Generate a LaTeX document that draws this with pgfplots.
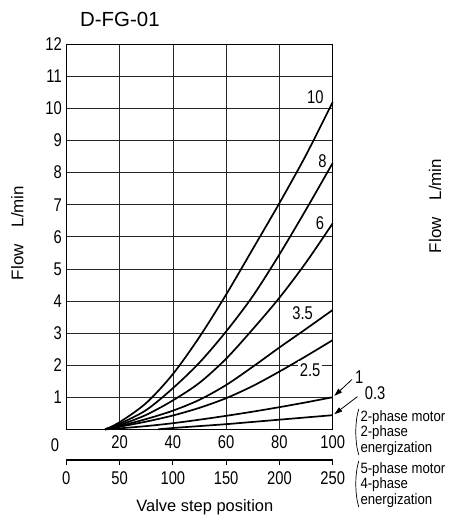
\documentclass[border=0pt]{standalone}
\usepackage{fontspec}
\setmainfont{Liberation Sans}
\newfontfamily\cond[FakeStretch=0.8]{Liberation Sans}
\newfontfamily\condb[FakeStretch=0.88]{Liberation Sans}
\usepackage{pgfplots}
\pgfplotsset{compat=1.18}
\usetikzlibrary{arrows.meta}
\tikzset{crv/.style={black, line width=1.7bp, smooth, tension=0.5, mark=none}}

\begin{document}
\begin{tikzpicture}
\useasboundingbox (-66.3bp,-90.7bp) rectangle (387.7bp,429.3bp);
\begin{axis}[
  at={(0,0)}, anchor=south west,
  scale only axis, width=266.4bp, height=385bp,
  xmin=0, xmax=100, ymin=0, ymax=12,
  xtick={20,40,60,80,100}, ytick={1,2,...,12},
  grid=major, major grid style={black!85, line width=0.7bp},
  axis line style={black, line width=1.1bp},
  tick style={draw=none},
  /pgf/number format/assume math mode=true,
  ticklabel style={font=\cond\fontsize{18.5}{18.5}\selectfont},
  xticklabel style={yshift=-3bp},
  yticklabel style={xshift=-1bp},
  ylabel={Flow\quad L/min},
  ylabel style={font=\fontsize{17}{17}\selectfont, at={(axis description cs:-0.184,0.51)}, anchor=center},
  clip=false,
]
\addplot[crv] coordinates {(14.6,0)(20,0.22)(30,0.82)(40,1.72)(50,2.88)(60,4.2)(70,5.62)(80,7.05)(90,8.55)(100,10.2)};
\addplot[crv] coordinates {(14.6,0)(20,0.17)(30,0.6)(40,1.28)(50,2.08)(60,3.05)(70,4.15)(80,5.45)(90,6.85)(100,8.3)};
\addplot[crv] coordinates {(14.6,0)(20,0.13)(30,0.45)(40,0.9)(50,1.45)(60,2.2)(70,3.12)(80,4.1)(90,5.2)(100,6.42)};
\addplot[crv] coordinates {(14.6,0)(20,0.1)(30,0.32)(40,0.58)(50,0.92)(60,1.38)(70,1.95)(80,2.55)(90,3.13)(100,3.72)};
\addplot[crv] coordinates {(14.6,0)(20,0.08)(30,0.24)(40,0.43)(50,0.67)(60,0.97)(70,1.35)(80,1.8)(90,2.28)(100,2.78)};
\addplot[crv] coordinates {(14.6,0)(20,0.03)(30,0.1)(40,0.19)(50,0.3)(60,0.42)(70,0.55)(80,0.69)(90,0.84)(100,1.0)};
\addplot[crv] coordinates {(34.5,0)(40,0.04)(50,0.1)(60,0.16)(70,0.23)(80,0.3)(90,0.37)(100,0.44)};

\begin{scope}[every node/.style={font=\cond\fontsize{18.5}{18.5}\selectfont, inner sep=1bp}]
\node at (axis cs:93.5,10.35) {10};
\node at (axis cs:96.2,8.36) {8};
\node at (axis cs:95.2,6.42) {6};
\node at (axis cs:88.7,3.62) {3.5};
\node[fill=white, inner sep=2bp] at (axis cs:91.5,1.85) {2.5};
\node at (axis cs:110,1.64) {1};
\node at (axis cs:115.9,1.14) {0.3};
\end{scope}
\draw[black, line width=0.8bp, -{Triangle[length=8bp,width=5bp]}] (axis cs:107.2,1.55) -- (axis cs:100.6,1.04);
\draw[black, line width=0.8bp, -{Triangle[length=8bp,width=5bp]}] (axis cs:109.3,1.02) -- (axis cs:100.6,0.47);
\end{axis}

\begin{axis}[
  at={(0,-30.7bp)}, anchor=south west,
  scale only axis, width=266.4bp, height=1bp,
  xmin=0, xmax=250, ymin=0, ymax=1,
  hide y axis, axis x line=bottom,
  axis line style={-, black, line width=1.1bp},
  xtick={0,50,...,250}, tick align=outside, major tick length=5bp,
  tick style={black, line width=0.8bp},
  /pgf/number format/assume math mode=true,
  ticklabel style={font=\cond\fontsize{18.5}{18.5}\selectfont},
  xticklabel style={yshift=-3bp},
  xlabel={Valve step position},
  xlabel style={font=\fontsize{16.5}{16.5}\selectfont, at={(axis description cs:0.52,0)}, anchor=center, yshift=-47bp},
]
\addplot[draw=none] coordinates {(0,0)(250,1)};
\end{axis}

\node[font=\cond\fontsize{18.5}{18.5}\selectfont] at (-11.3bp,-15.5bp) {0};
\node[font=\fontsize{20.5}{20.5}\selectfont, anchor=west, inner sep=0pt] at (13.7bp,410.3bp) {D-FG-01};
\node[rotate=90, font=\fontsize{17}{17}\selectfont] at (368.7bp,223.3bp) {Flow\quad L/min};
\draw[black, line width=0.7bp] (292.5bp,20.3bp) .. controls (288.5bp,8bp) and (288.5bp,-13bp) .. (292.5bp,-25.7bp);
\draw[black, line width=0.7bp] (292.5bp,-31.7bp) .. controls (288.5bp,-44bp) and (288.5bp,-65bp) .. (292.5bp,-77.7bp);
\node[anchor=west, inner sep=0pt, align=left, font=\condb\fontsize{15}{15.7}\selectfont] at (294bp,-3.7bp) {2-phase motor\\2-phase\\energization};
\node[anchor=west, inner sep=0pt, align=left, font=\condb\fontsize{15}{15.7}\selectfont] at (294bp,-55.7bp) {5-phase motor\\4-phase\\energization};
\end{tikzpicture}
\end{document}
